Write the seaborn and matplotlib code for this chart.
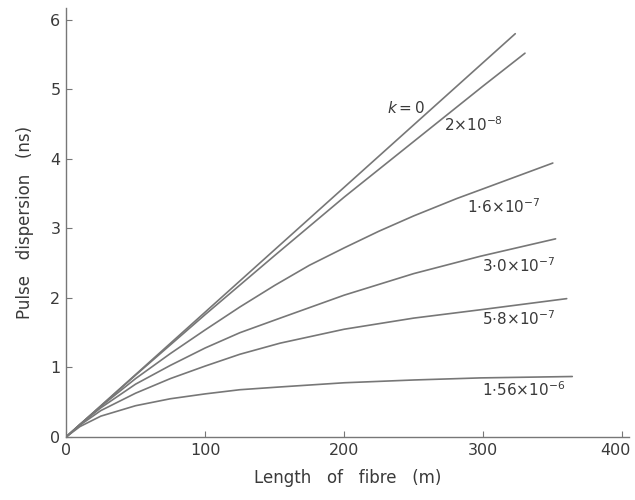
import matplotlib
matplotlib.use("Agg")
import matplotlib.pyplot as plt
import matplotlib.transforms as mtransforms
import seaborn as sns
import pandas as pd

# Pulse dispersion versus fibre length for several mode-coupling coefficients k
k_labels = ["0", "2e-8", "1.6e-7", "3.0e-7", "5.8e-7", "1.56e-6"]

length_k0 = [0, 323]
disp_k0 = [0, 5.80]

length_2e8 = [0, 50, 100, 150, 200, 250, 300, 330]
disp_2e8 = [0, 0.89, 1.76, 2.61, 3.45, 4.25, 5.05, 5.52]

length_16e7 = [0, 10, 25, 50, 75, 100, 125, 150, 175, 200, 225, 250, 281, 300, 350]
disp_16e7 = [0, 0.18, 0.44, 0.84, 1.20, 1.54, 1.87, 2.18, 2.47, 2.72, 2.96, 3.18, 3.43, 3.57, 3.94]

length_30e7 = [0, 10, 25, 50, 75, 100, 125, 154, 200, 250, 298, 352]
disp_30e7 = [0, 0.18, 0.42, 0.76, 1.03, 1.28, 1.50, 1.71, 2.04, 2.35, 2.60, 2.85]

length_58e7 = [0, 10, 25, 50, 75, 100, 125, 154, 200, 250, 298, 360]
disp_58e7 = [0, 0.17, 0.38, 0.63, 0.84, 1.02, 1.19, 1.35, 1.55, 1.71, 1.83, 1.99]

length_156e6 = [0, 10, 25, 50, 75, 100, 125, 154, 200, 250, 298, 364]
disp_156e6 = [0, 0.15, 0.30, 0.45, 0.55, 0.62, 0.68, 0.72, 0.78, 0.82, 0.85, 0.87]

curve_names = [
    "$k = 0$",
    r"$2{\times}10^{-8}$",
    r"$1{\cdot}6{\times}10^{-7}$",
    r"$3{\cdot}0{\times}10^{-7}$",
    r"$5{\cdot}8{\times}10^{-7}$",
    r"$1{\cdot}56{\times}10^{-6}$",
]
# label anchor positions (data units) and horizontal alignment
label_x = [258, 272, 288, 299, 299, 299]
label_y = [4.73, 4.49, 3.31, 2.46, 1.70, 0.68]
label_ha = ["right", "left", "left", "left", "left", "left"]

series = [
    (length_k0, disp_k0),
    (length_2e8, disp_2e8),
    (length_16e7, disp_16e7),
    (length_30e7, disp_30e7),
    (length_58e7, disp_58e7),
    (length_156e6, disp_156e6),
]

rows = []
for k, (xs, ys) in zip(k_labels, series):
    for x, y in zip(xs, ys):
        rows.append({"k": k, "length": x, "dispersion": y})
df = pd.DataFrame(rows)

sns.set_style("ticks")
plt.rcParams["font.family"] = ["DejaVu Sans"]
plt.rcParams["mathtext.fontset"] = "dejavusans"

grey = "#777777"
text_col = "#3a3a3a"

fig = plt.figure(figsize=(6.35, 5.0), dpi=100)
ax = fig.add_axes([0.104, 0.126, 0.887, 0.858])

sns.lineplot(data=df, x="length", y="dispersion", hue="k", hue_order=k_labels,
             palette=[grey] * len(k_labels), linewidth=1.2, legend=False,
             estimator=None, sort=False, ax=ax)

for name, lx, ly, ha in zip(curve_names, label_x, label_y, label_ha):
    ax.text(lx, ly, name, fontsize=11, color=text_col, ha=ha, va="center")

ax.set_xlim(0, 405)
ax.set_ylim(0, 6.17)
ax.set_xticks([0, 100, 200, 300, 400])
ax.set_yticks([0, 1, 2, 3, 4, 5, 6])
ax.tick_params(direction="in", length=4, width=0.8, color=grey,
               labelsize=11.5, labelcolor=text_col, pad=4)

# nudge the last x tick label inward so it stays within the figure
fig.canvas.draw()
last = ax.get_xticklabels()[-1]
last.set_transform(last.get_transform() +
                   mtransforms.ScaledTranslation(-5 / 72, 0, fig.dpi_scale_trans))

for side in ("top", "right"):
    ax.spines[side].set_visible(False)
for side in ("left", "bottom"):
    ax.spines[side].set_color(grey)
    ax.spines[side].set_linewidth(1.0)

ax.set_xlabel("Length   of   fibre   (m)", fontsize=12, color=text_col, labelpad=8)
ax.set_ylabel("Pulse   dispersion   (ns)", fontsize=12, color=text_col, labelpad=12)

fig.savefig("out.png", dpi=100, facecolor="white")
